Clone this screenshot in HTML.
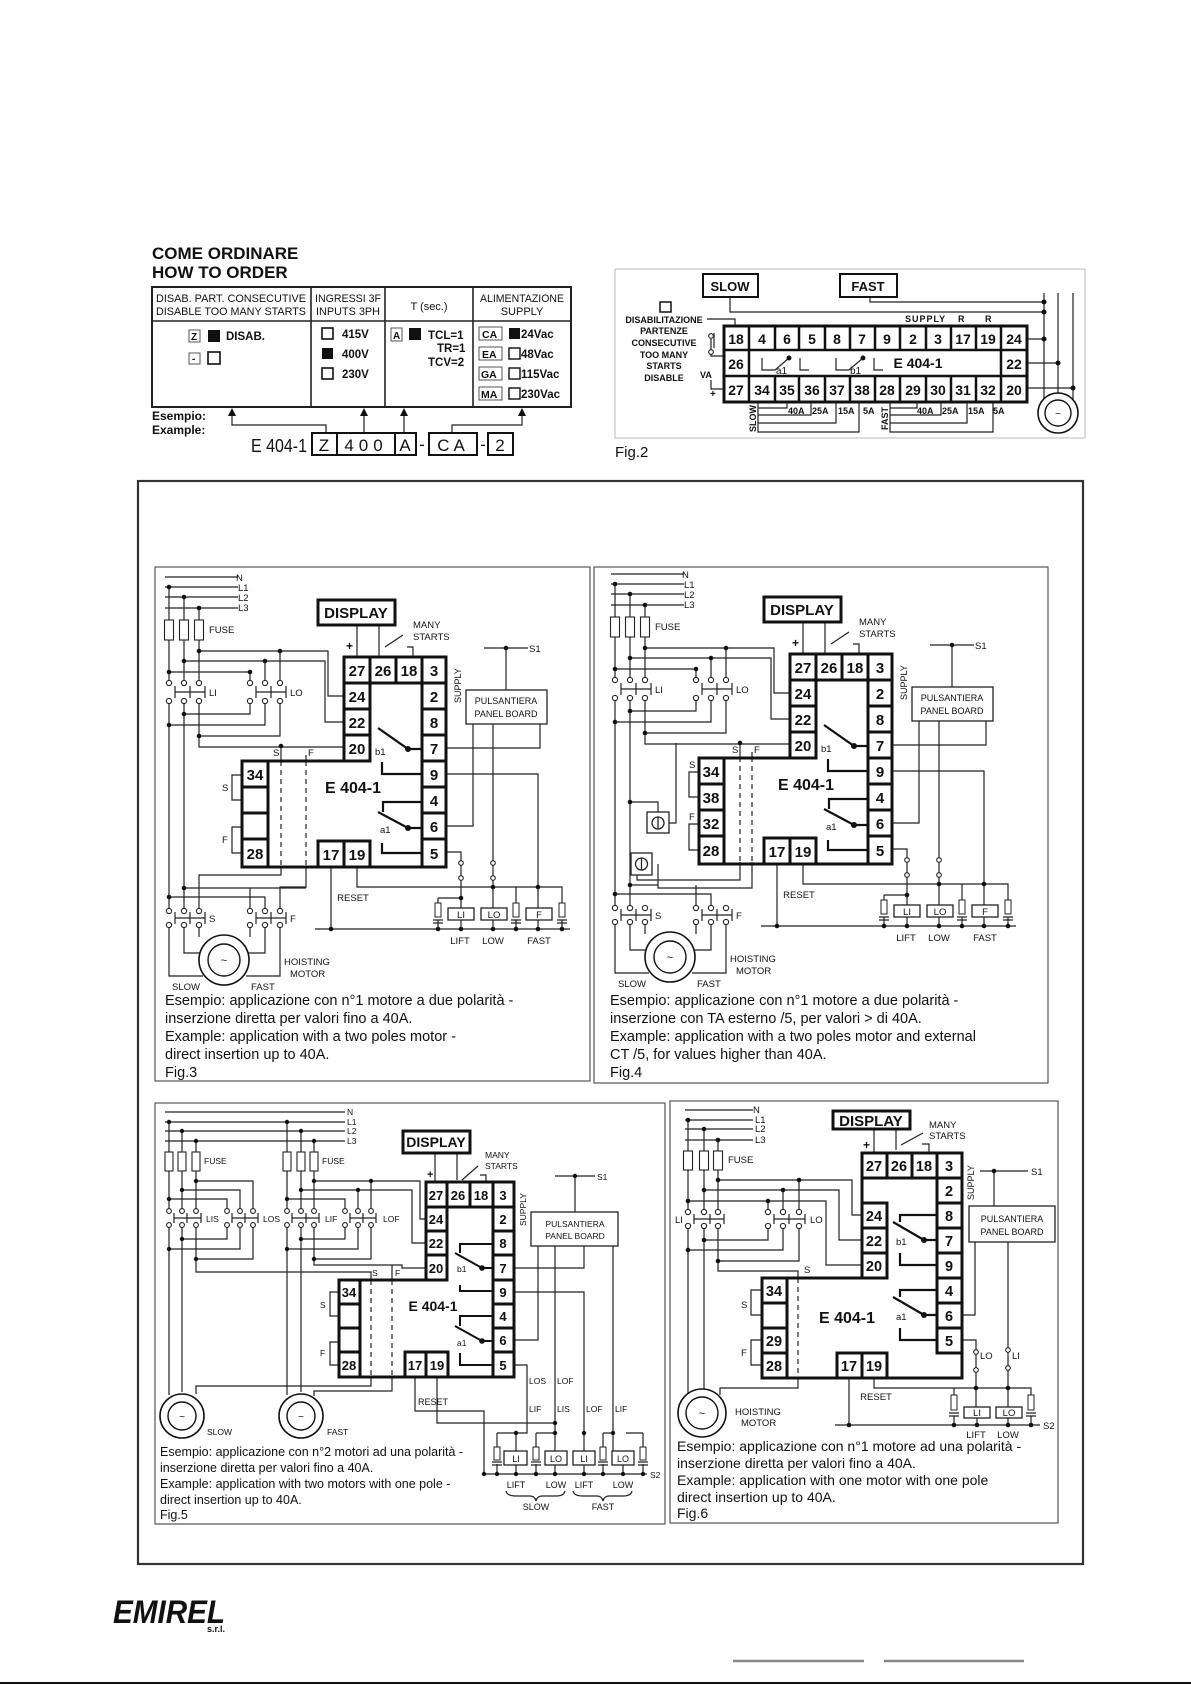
<!DOCTYPE html>
<html><head><meta charset="utf-8"><style>
html,body{margin:0;padding:0;background:#fff}
svg{display:block}
text{font-family:"Liberation Sans",Arial,sans-serif;fill:#111}
.w{fill:none;stroke:#222;stroke-width:1.2}
.k{fill:#fff;stroke:#111;stroke-width:3}
.kb{fill:none;stroke:#111;stroke-width:3}
.d{fill:none;stroke:#222;stroke-width:1.2;stroke-dasharray:5,4}
.b{font-weight:bold}
.o{fill:#fff;stroke:#222;stroke-width:1.1}
</style></head><body>
<svg width="1191" height="1685" viewBox="0 0 1191 1685" xmlns="http://www.w3.org/2000/svg">
<rect width="1191" height="1685" fill="#fff"/>

<!-- HOW TO ORDER -->
<text x="152" y="259" class="b" font-size="17">COME ORDINARE</text>
<text x="152" y="278" class="b" font-size="17">HOW TO ORDER</text>
<rect x="152" y="287" width="419" height="120" fill="none" stroke="#222" stroke-width="2"/>
<path d="M152,321H571M311,287V407M385,287V407M473,287V407" stroke="#222" stroke-width="1.6" fill="none"/>
<g font-size="11" text-anchor="middle">
<text x="231" y="302" textLength="150" lengthAdjust="spacingAndGlyphs">DISAB. PART. CONSECUTIVE</text>
<text x="231" y="315" textLength="150" lengthAdjust="spacingAndGlyphs">DISABLE TOO MANY STARTS</text>
<text x="348" y="302" textLength="66" lengthAdjust="spacingAndGlyphs">INGRESSI 3F</text>
<text x="348" y="315" textLength="64" lengthAdjust="spacingAndGlyphs">INPUTS 3PH</text>
<text x="429" y="310">T (sec.)</text>
<text x="522" y="302" textLength="84" lengthAdjust="spacingAndGlyphs">ALIMENTAZIONE</text>
<text x="522" y="315">SUPPLY</text>
</g>
<g font-size="11.5" class="b">
<rect x="189" y="330" width="11" height="12" fill="none" stroke="#555"/><text x="191" y="340" font-size="10">Z</text>
<rect x="208" y="330" width="12" height="12" fill="#111"/><text x="226" y="340" class="b">DISAB.</text>
<rect x="189" y="353" width="11" height="11" fill="none" stroke="#555"/><text x="192" y="362" font-size="10">-</text>
<rect x="208" y="352" width="12" height="12" fill="none" stroke="#111" stroke-width="1.6"/>
<rect x="322" y="328" width="11" height="11" fill="none" stroke="#111" stroke-width="1.6"/><text x="342" y="338" class="b">415V</text>
<rect x="322" y="348" width="11" height="11" fill="#111"/><text x="342" y="358" class="b">400V</text>
<rect x="322" y="368" width="11" height="11" fill="none" stroke="#111" stroke-width="1.6"/><text x="342" y="378" class="b">230V</text>
<rect x="391" y="328" width="11" height="13" fill="none" stroke="#555"/><text x="393" y="339" font-size="10">A</text>
<rect x="409" y="328" width="12" height="12" fill="#111"/>
<text x="428" y="339" class="b">TCL=1</text><text x="437" y="352" class="b">TR=1</text><text x="428" y="366" class="b">TCV=2</text>
<rect x="479" y="327" width="23" height="13" fill="none" stroke="#555"/><text x="482" y="338" font-size="10.5">CA</text>
<rect x="509" y="328" width="11" height="11" fill="#111"/><text x="521" y="338" class="b">24Vac</text>
<rect x="479" y="347" width="23" height="13" fill="none" stroke="#555"/><text x="482" y="358" font-size="10.5">EA</text>
<rect x="509" y="348" width="11" height="11" fill="none" stroke="#111" stroke-width="1.4"/><text x="521" y="358" class="b">48Vac</text>
<rect x="479" y="367" width="23" height="13" fill="none" stroke="#555"/><text x="481" y="378" font-size="10.5">GA</text>
<rect x="509" y="368" width="11" height="11" fill="none" stroke="#111" stroke-width="1.4"/><text x="521" y="378" class="b">115Vac</text>
<rect x="479" y="387" width="23" height="13" fill="none" stroke="#555"/><text x="481" y="398" font-size="10.5">MA</text>
<rect x="509" y="388" width="11" height="11" fill="none" stroke="#111" stroke-width="1.4"/><text x="521" y="398" class="b">230Vac</text>
</g>
<text x="152" y="420" class="b" font-size="12">Esempio:</text>
<text x="152" y="434" class="b" font-size="12">Example:</text>
<path d="M232,415V425H326V433M364,415V433M404,415V433M452,433V425H522V415" class="w" stroke-width="1.3"/>
<path d="M228,416L232,408L236,416ZM360,416L364,408L368,416ZM400,416L404,408L408,416ZM518,416L522,408L526,416Z" fill="#111"/>
<text x="251" y="452" font-size="18" textLength="56" lengthAdjust="spacingAndGlyphs">E 404-1</text>
<g fill="none" stroke="#111" stroke-width="2"><rect x="312" y="433" width="25" height="22"/><rect x="337" y="433" width="58" height="22"/><rect x="395" y="433" width="21" height="22"/><rect x="429" y="433" width="48" height="22"/><rect x="488" y="433" width="25" height="22"/></g>
<g font-size="17" text-anchor="middle"><text x="324" y="451">Z</text><text x="366" y="451" letter-spacing="5">400</text><text x="405" y="451">A</text><text x="422" y="450">-</text><text x="453" y="451" letter-spacing="4">CA</text><text x="483" y="450">-</text><text x="500" y="451">2</text></g>

<!-- FIG 2 -->
<path d="M615,269H1085M615,438H1085M615,269V438M1085,269V438" stroke="#bbb" stroke-width="1" fill="none"/>
<rect x="703" y="274" width="55" height="23" fill="none" stroke="#111" stroke-width="2"/><text x="730" y="291" text-anchor="middle" class="b" font-size="13">SLOW</text>
<rect x="840" y="274" width="57" height="23" fill="none" stroke="#111" stroke-width="2"/><text x="868" y="291" text-anchor="middle" class="b" font-size="13">FAST</text>
<path d="M730,297V312H1044M870,297V302H1044M1044,293V402M1058,293V402M1073,293V402M1027,339H1044M1027,363H1058M1027,388H1073" class="w"/>
<g fill="#111"><circle cx="1044" cy="302" r="2.5"/><circle cx="1044" cy="312" r="2.5"/><circle cx="1044" cy="339" r="2.5"/><circle cx="1058" cy="363" r="2.5"/><circle cx="1073" cy="388" r="2.5"/></g>
<circle cx="1058" cy="413" r="20" fill="#fff" stroke="#111" stroke-width="1.6"/><circle cx="1058" cy="413" r="13" fill="none" stroke="#111" stroke-width="1.4"/><text x="1058" y="417" text-anchor="middle" font-size="10">~</text>
<rect x="660" y="302" width="11" height="10" fill="none" stroke="#111" stroke-width="1.5"/>
<g class="b" font-size="9" text-anchor="middle"><text x="664" y="323">DISABILITAZIONE</text><text x="664" y="334">PARTENZE</text><text x="664" y="346">CONSECUTIVE</text><text x="664" y="358">TOO MANY</text><text x="664" y="369">STARTS</text><text x="664" y="381">DISABLE</text></g>
<path d="M707,319H735V326M711,339V356H724M714,333V348M711,380V389H724" class="w"/>
<circle cx="711" cy="336" r="2.3" class="o"/><circle cx="711" cy="352" r="2.3" class="o"/>
<text x="700" y="378" font-size="9" class="b">VA</text><text x="710" y="397" font-size="10" class="b">+</text>
<text x="905" y="322" font-size="9" class="b" letter-spacing="1">SUPPLY</text><text x="958" y="322" font-size="9" class="b">R</text><text x="985" y="322" font-size="9" class="b">R</text>
<rect x="724" y="326" width="303" height="76" class="kb"/>
<path d="M724,350H1027M724,376H1027M749,326V402M775,326V350M799,326V350M825,326V350M850,326V350M875,326V350M900,326V350M926,326V350M951,326V350M976,326V350M1001,326V402M775,376V402M799,376V402M825,376V402M850,376V402M875,376V402M900,376V402M926,376V402M951,376V402M976,376V402" stroke="#111" stroke-width="2.5" fill="none"/>
<g class="b" font-size="14" text-anchor="middle">
<text x="736" y="344">18</text><text x="762" y="344">4</text><text x="787" y="344">6</text><text x="812" y="344">5</text><text x="837" y="344">8</text><text x="862" y="344">7</text><text x="887" y="344">9</text><text x="913" y="344">2</text><text x="938" y="344">3</text><text x="963" y="344">17</text><text x="988" y="344">19</text><text x="1014" y="344">24</text>
<text x="736" y="369">26</text><text x="1014" y="369">22</text><text x="918" y="368">E 404-1</text>
<text x="736" y="395">27</text><text x="762" y="395">34</text><text x="787" y="395">35</text><text x="812" y="395">36</text><text x="837" y="395">37</text><text x="862" y="395">38</text><text x="887" y="395">28</text><text x="913" y="395">29</text><text x="938" y="395">30</text><text x="963" y="395">31</text><text x="988" y="395">32</text><text x="1014" y="395">20</text>
</g>
<path d="M762,358V370H775L789,358M800,358V370H809M836,358V370H849L863,358M874,358V370H883" class="w" stroke-width="1.8"/>
<circle cx="789" cy="358" r="2.5" fill="#111"/><circle cx="863" cy="358" r="2.5" fill="#111"/>
<text x="776" y="374" font-size="10">a1</text><text x="850" y="374" font-size="10">b1</text>
<path d="M758,402V432H859V402M758,408H787V402M758,415H811V402M758,423H836V402M890,402V432H993V402M890,408H917V402M890,415H941V402M890,423H967V402" class="w" stroke-width="1"/>
<g font-size="9" class="b"><text x="788" y="414">40A</text><text x="812" y="414">25A</text><text x="838" y="414">15A</text><text x="863" y="414">5A</text><text x="917" y="414">40A</text><text x="942" y="414">25A</text><text x="968" y="414">15A</text><text x="993" y="414">5A</text>
<text transform="translate(756,432) rotate(-90)">SLOW</text><text transform="translate(888,430) rotate(-90)">FAST</text></g>
<text x="615" y="457" font-size="15">Fig.2</text>

<!-- OUTER FRAME -->
<rect x="138" y="481" width="945" height="1083" fill="none" stroke="#333" stroke-width="2.2"/>

<!-- FIG 3 -->
<rect x="155" y="567" width="435" height="514" fill="none" stroke="#555" stroke-width="1.2"/>
<g transform="translate(150,565)">
<path class="w" d="M15,12H88M15,22H88M15,32H88M15,43H88M19,22V118M34,32V118M49,43V118M19,136V346M34,136V346M49,136V182H194M49,86H178V131H194M130,86V118M34,96H175V157H194M115,96V118M19,107H100V118M34,149H100V136M19,160H115V136M49,171H130V136M131,181V196M156,190V196M131,302V310H49V346M156,302V322H130V346M34,323H156M100,323V346M19,332H115V346M19,360V411H53M34,360V388H53M49,360V372M100,360V372M115,360V388H96M130,360V411H96M207,60V92M229,60V92M235,82L253,70M257,82H263V92M334,83H378M356,83V125M296,183H390V159M296,261H323V159M296,209H388V343M343,159V300M343,313V343M296,287H311V298M311,313V343M288,333H311M207,302V322H412V338M181,302V364M165,364H420M288,333V338M366,322V338M288,355V364M311,355V364M343,355V364M388,355V364M366,355V364M412,355V364M92,210H82V235H92M92,262H82V288H92"/>
<path class="d" d="M131,196V302M156,196V302"/>
<g fill="#111"><circle cx="19" cy="22" r="2.3"/><circle cx="34" cy="32" r="2.3"/><circle cx="49" cy="43" r="2.3"/><circle cx="49" cy="86" r="2.3"/><circle cx="130" cy="86" r="2.3"/><circle cx="34" cy="96" r="2.3"/><circle cx="115" cy="96" r="2.3"/><circle cx="19" cy="107" r="2.3"/><circle cx="100" cy="107" r="2.3"/><circle cx="34" cy="149" r="2.3"/><circle cx="19" cy="160" r="2.3"/><circle cx="49" cy="171" r="2.3"/><circle cx="131" cy="181" r="2.3"/><circle cx="34" cy="323" r="2.3"/><circle cx="19" cy="332" r="2.3"/><circle cx="356" cy="83" r="2.3"/><circle cx="311" cy="333" r="2.3"/><circle cx="343" cy="322" r="2.3"/><circle cx="388" cy="322" r="2.3"/><circle cx="181" cy="364" r="2.3"/><circle cx="288" cy="364" r="2.3"/><circle cx="311" cy="364" r="2.3"/><circle cx="343" cy="364" r="2.3"/><circle cx="366" cy="364" r="2.3"/><circle cx="388" cy="364" r="2.3"/><circle cx="412" cy="364" r="2.3"/></g>
<g fill="#fff" stroke="#222" stroke-width="1.1"><rect x="14.5" y="55" width="9" height="20"/><rect x="29.5" y="55" width="9" height="20"/><rect x="44.5" y="55" width="9" height="20"/></g>
<path class="w" stroke-width="1.6" d="M25,121V133M25,127H55M40,121V133M55,121V133M106,121V133M106,127H136M121,121V133M136,121V133M25,347V359M25,353H55M40,347V359M55,347V359M106,347V359M106,353H136M121,347V359M136,347V359M311,300V313M343,300V313"/>
<g class="o"><circle cx="19" cy="118" r="2.6"/><circle cx="34" cy="118" r="2.6"/><circle cx="49" cy="118" r="2.6"/><circle cx="19" cy="136" r="2.6"/><circle cx="34" cy="136" r="2.6"/><circle cx="49" cy="136" r="2.6"/><circle cx="100" cy="118" r="2.6"/><circle cx="115" cy="118" r="2.6"/><circle cx="130" cy="118" r="2.6"/><circle cx="100" cy="136" r="2.6"/><circle cx="115" cy="136" r="2.6"/><circle cx="130" cy="136" r="2.6"/><circle cx="19" cy="346" r="2.6"/><circle cx="34" cy="346" r="2.6"/><circle cx="49" cy="346" r="2.6"/><circle cx="19" cy="360" r="2.6"/><circle cx="34" cy="360" r="2.6"/><circle cx="49" cy="360" r="2.6"/><circle cx="100" cy="346" r="2.6"/><circle cx="115" cy="346" r="2.6"/><circle cx="130" cy="346" r="2.6"/><circle cx="100" cy="360" r="2.6"/><circle cx="115" cy="360" r="2.6"/><circle cx="130" cy="360" r="2.6"/><circle cx="311" cy="298" r="2.3"/><circle cx="311" cy="313" r="2.3"/><circle cx="343" cy="298" r="2.3"/><circle cx="343" cy="313" r="2.3"/></g>
<circle cx="74" cy="395" r="25" fill="#fff" stroke="#111" stroke-width="1.6"/><circle cx="74" cy="395" r="16" fill="none" stroke="#111" stroke-width="1.4"/><text x="74" y="399" text-anchor="middle" font-size="11">~</text>
<g fill="#fff" stroke="#222"><rect x="285" y="338" width="6" height="14"/><rect x="363" y="338" width="6" height="14"/><rect x="409" y="338" width="6" height="14"/></g>
<path class="w" stroke-width="1.6" d="M283,355H293M283,358H293M361,355H371M361,358H371M407,355H417M407,358H417"/>
<g fill="#fff" stroke="#222" stroke-width="1.3"><rect x="298" y="343" width="26" height="12"/><rect x="331" y="343" width="26" height="12"/><rect x="376" y="343" width="26" height="12"/></g>
<g font-size="9.5" text-anchor="middle"><text x="311" y="353">LI</text><text x="344" y="353">LO</text><text x="389" y="353">F</text><text x="310" y="379">LIFT</text><text x="343" y="379">LOW</text><text x="389" y="379">FAST</text><text x="203" y="336">RESET</text></g>
<g font-size="9.5"><text x="86" y="16">N</text><text x="88" y="26">L1</text><text x="88" y="36">L2</text><text x="88" y="46">L3</text><text x="59" y="68">FUSE</text><text x="59" y="131">LI</text><text x="140" y="131">LO</text><text x="59" y="357">S</text><text x="140" y="357">F</text><text x="22" y="425">SLOW</text><text x="101" y="425">FAST</text><text x="134" y="400">HOISTING</text><text x="140" y="412">MOTOR</text><text x="263" y="63">MANY</text><text x="263" y="75">STARTS</text><text x="123" y="191">S</text><text x="158" y="191">F</text><text x="72" y="226">S</text><text x="72" y="278">F</text><text x="379" y="87">S1</text><text transform="translate(311,138) rotate(-90)" font-size="9">SUPPLY</text><text x="225" y="190">b1</text><text x="230" y="268">a1</text><text x="196" y="85" class="b" font-size="12">+</text></g>
<rect x="316" y="125" width="81" height="34" fill="#fff" stroke="#222" stroke-width="1.3"/>
<g font-size="9" text-anchor="middle"><text x="356" y="139">PULSANTIERA</text><text x="356" y="152">PANEL BOARD</text></g>
<rect x="168" y="35" width="77" height="25" fill="#fff" stroke="#111" stroke-width="3"/><text x="206" y="53" text-anchor="middle" class="b" font-size="15">DISPLAY</text>
<path class="kb" d="M92,196H194V92H296V302H92Z"/>
<g class="k"><rect x="194" y="92" width="26" height="26"/><rect x="220" y="92" width="26" height="26"/><rect x="246" y="92" width="26" height="26"/><rect x="272" y="92" width="24" height="26"/><rect x="194" y="118" width="26" height="26"/><rect x="194" y="144" width="26" height="26"/><rect x="194" y="170" width="26" height="26"/><rect x="272" y="118" width="24" height="26"/><rect x="272" y="144" width="24" height="26"/><rect x="272" y="170" width="24" height="26"/><rect x="272" y="196" width="24" height="26"/><rect x="272" y="222" width="24" height="26"/><rect x="272" y="248" width="24" height="26"/><rect x="272" y="274" width="24" height="28"/><rect x="92" y="196" width="26" height="26"/><rect x="92" y="222" width="26" height="26"/><rect x="92" y="248" width="26" height="26"/><rect x="92" y="274" width="26" height="28"/><rect x="168" y="276" width="26" height="26"/><rect x="194" y="276" width="26" height="26"/></g>
<g class="b" font-size="15" text-anchor="middle"><text x="207" y="111">27</text><text x="233" y="111">26</text><text x="259" y="111">18</text><text x="284" y="111">3</text><text x="207" y="137">24</text><text x="207" y="163">22</text><text x="207" y="189">20</text><text x="284" y="137">2</text><text x="284" y="163">8</text><text x="284" y="189">7</text><text x="284" y="215">9</text><text x="284" y="241">4</text><text x="284" y="267">6</text><text x="284" y="294">5</text><text x="105" y="215">34</text><text x="105" y="294">28</text><text x="181" y="295">17</text><text x="207" y="295">19</text><text x="203" y="228" font-size="16">E 404-1</text></g>
<path d="M228,163L258,184H272M232,197V209H272M228,247L258,263H272M233,247V237H272M232,278V288H272" fill="none" stroke="#111" stroke-width="2.2"/>
<circle cx="258" cy="184" r="3" fill="#111"/><circle cx="258" cy="263" r="3" fill="#111"/>
<g font-size="14.5"><text x="15" y="440">Esempio: applicazione con n°1 motore a due polarità -</text><text x="15" y="458">inserzione diretta per valori fino a 40A.</text><text x="15" y="476">Example: application with a two poles motor -</text><text x="15" y="494">direct insertion up to 40A.</text><text x="15" y="512">Fig.3</text></g>
</g>

<!-- FIG 4 -->
<rect x="594" y="567" width="454" height="516" fill="none" stroke="#555" stroke-width="1.2"/>
<g transform="translate(596,562)">
<path class="w" d="M15,12H88M15,22H88M15,32H88M15,43H88M19,22V118M34,32V118M49,43V118M19,136V346M34,136V346M49,136V182H194M49,86H178V131H194M130,86V118M34,96H175V157H194M115,96V118M19,107H100V118M34,149H100V136M19,160H115V136M49,171H130V136M144,181V195M156,190V195M144,300V318H41V303M156,300V326H62V302M34,323H62M100,323V346M19,332H115V346M19,360V411H53M34,360V388H53M49,360V372M100,360V372M115,360V388H96M130,360V411H96M207,60V92M229,60V92M235,82L253,70M257,82H263V92M334,83H378M356,83V125M296,183H390V159M296,261H323V159M296,209H388V343M343,159V300M343,313V343M296,287H311V298M311,313V343M288,333H311M207,302V322H412V338M181,302V364M165,364H420M288,333V338M366,322V338M288,355V364M311,355V364M343,355V364M388,355V364M366,355V364M412,355V364M103,210H93V235H103M103,262H93V288H103M34,240H62V250M73,261H80V181"/>
<path class="d" d="M144,195V300M156,195V300"/>
<g fill="#111"><circle cx="19" cy="22" r="2.3"/><circle cx="34" cy="32" r="2.3"/><circle cx="49" cy="43" r="2.3"/><circle cx="49" cy="86" r="2.3"/><circle cx="130" cy="86" r="2.3"/><circle cx="34" cy="96" r="2.3"/><circle cx="115" cy="96" r="2.3"/><circle cx="19" cy="107" r="2.3"/><circle cx="100" cy="107" r="2.3"/><circle cx="34" cy="149" r="2.3"/><circle cx="19" cy="160" r="2.3"/><circle cx="49" cy="171" r="2.3"/><circle cx="144" cy="181" r="2.3"/><circle cx="34" cy="240" r="2.3"/><circle cx="34" cy="323" r="2.3"/><circle cx="19" cy="332" r="2.3"/><circle cx="356" cy="83" r="2.3"/><circle cx="311" cy="333" r="2.3"/><circle cx="343" cy="322" r="2.3"/><circle cx="388" cy="322" r="2.3"/><circle cx="181" cy="364" r="2.3"/><circle cx="288" cy="364" r="2.3"/><circle cx="311" cy="364" r="2.3"/><circle cx="343" cy="364" r="2.3"/><circle cx="366" cy="364" r="2.3"/><circle cx="388" cy="364" r="2.3"/><circle cx="412" cy="364" r="2.3"/></g>
<g fill="#fff" stroke="#222" stroke-width="1.3"><rect x="51" y="250" width="22" height="21"/><rect x="35" y="291" width="21" height="22"/></g>
<g fill="none" stroke="#222" stroke-width="1.3"><circle cx="62" cy="261" r="6"/><circle cx="45.5" cy="302" r="6"/><path d="M62,255V267M45.5,296V308"/></g>
<g fill="#fff" stroke="#222" stroke-width="1.1"><rect x="14.5" y="55" width="9" height="20"/><rect x="29.5" y="55" width="9" height="20"/><rect x="44.5" y="55" width="9" height="20"/></g>
<path class="w" stroke-width="1.6" d="M25,121V133M25,127H55M40,121V133M55,121V133M106,121V133M106,127H136M121,121V133M136,121V133M25,347V359M25,353H55M40,347V359M55,347V359M106,347V359M106,353H136M121,347V359M136,347V359M311,300V313M343,300V313"/>
<g class="o"><circle cx="19" cy="118" r="2.6"/><circle cx="34" cy="118" r="2.6"/><circle cx="49" cy="118" r="2.6"/><circle cx="19" cy="136" r="2.6"/><circle cx="34" cy="136" r="2.6"/><circle cx="49" cy="136" r="2.6"/><circle cx="100" cy="118" r="2.6"/><circle cx="115" cy="118" r="2.6"/><circle cx="130" cy="118" r="2.6"/><circle cx="100" cy="136" r="2.6"/><circle cx="115" cy="136" r="2.6"/><circle cx="130" cy="136" r="2.6"/><circle cx="19" cy="346" r="2.6"/><circle cx="34" cy="346" r="2.6"/><circle cx="49" cy="346" r="2.6"/><circle cx="19" cy="360" r="2.6"/><circle cx="34" cy="360" r="2.6"/><circle cx="49" cy="360" r="2.6"/><circle cx="100" cy="346" r="2.6"/><circle cx="115" cy="346" r="2.6"/><circle cx="130" cy="346" r="2.6"/><circle cx="100" cy="360" r="2.6"/><circle cx="115" cy="360" r="2.6"/><circle cx="130" cy="360" r="2.6"/><circle cx="311" cy="298" r="2.3"/><circle cx="311" cy="313" r="2.3"/><circle cx="343" cy="298" r="2.3"/><circle cx="343" cy="313" r="2.3"/></g>
<circle cx="74" cy="395" r="25" fill="#fff" stroke="#111" stroke-width="1.6"/><circle cx="74" cy="395" r="16" fill="none" stroke="#111" stroke-width="1.4"/><text x="74" y="399" text-anchor="middle" font-size="11">~</text>
<g fill="#fff" stroke="#222"><rect x="285" y="338" width="6" height="14"/><rect x="363" y="338" width="6" height="14"/><rect x="409" y="338" width="6" height="14"/></g>
<path class="w" stroke-width="1.6" d="M283,355H293M283,358H293M361,355H371M361,358H371M407,355H417M407,358H417"/>
<g fill="#fff" stroke="#222" stroke-width="1.3"><rect x="298" y="343" width="26" height="12"/><rect x="331" y="343" width="26" height="12"/><rect x="376" y="343" width="26" height="12"/></g>
<g font-size="9.5" text-anchor="middle"><text x="311" y="353">LI</text><text x="344" y="353">LO</text><text x="389" y="353">F</text><text x="310" y="379">LIFT</text><text x="343" y="379">LOW</text><text x="389" y="379">FAST</text><text x="203" y="336">RESET</text></g>
<g font-size="9.5"><text x="86" y="16">N</text><text x="88" y="26">L1</text><text x="88" y="36">L2</text><text x="88" y="46">L3</text><text x="59" y="68">FUSE</text><text x="59" y="131">LI</text><text x="140" y="131">LO</text><text x="59" y="357">S</text><text x="140" y="357">F</text><text x="22" y="425">SLOW</text><text x="101" y="425">FAST</text><text x="134" y="400">HOISTING</text><text x="140" y="412">MOTOR</text><text x="263" y="63">MANY</text><text x="263" y="75">STARTS</text><text x="136" y="191">S</text><text x="158" y="191">F</text><text x="93" y="206">S</text><text x="93" y="258">F</text><text x="379" y="87">S1</text><text transform="translate(311,138) rotate(-90)" font-size="9">SUPPLY</text><text x="225" y="190">b1</text><text x="230" y="268">a1</text><text x="196" y="85" class="b" font-size="12">+</text></g>
<rect x="316" y="125" width="81" height="34" fill="#fff" stroke="#222" stroke-width="1.3"/>
<g font-size="9" text-anchor="middle"><text x="356" y="139">PULSANTIERA</text><text x="356" y="152">PANEL BOARD</text></g>
<rect x="168" y="35" width="77" height="25" fill="#fff" stroke="#111" stroke-width="3"/><text x="206" y="53" text-anchor="middle" class="b" font-size="15">DISPLAY</text>
<path class="kb" d="M103,196H194V92H296V302H103Z"/>
<g class="k"><rect x="194" y="92" width="26" height="26"/><rect x="220" y="92" width="26" height="26"/><rect x="246" y="92" width="26" height="26"/><rect x="272" y="92" width="24" height="26"/><rect x="194" y="118" width="26" height="26"/><rect x="194" y="144" width="26" height="26"/><rect x="194" y="170" width="26" height="26"/><rect x="272" y="118" width="24" height="26"/><rect x="272" y="144" width="24" height="26"/><rect x="272" y="170" width="24" height="26"/><rect x="272" y="196" width="24" height="26"/><rect x="272" y="222" width="24" height="26"/><rect x="272" y="248" width="24" height="26"/><rect x="272" y="274" width="24" height="28"/><rect x="103" y="196" width="25" height="26"/><rect x="103" y="222" width="25" height="26"/><rect x="103" y="248" width="25" height="26"/><rect x="103" y="274" width="25" height="28"/><rect x="168" y="276" width="26" height="26"/><rect x="194" y="276" width="26" height="26"/></g>
<g class="b" font-size="15" text-anchor="middle"><text x="207" y="111">27</text><text x="233" y="111">26</text><text x="259" y="111">18</text><text x="284" y="111">3</text><text x="207" y="137">24</text><text x="207" y="163">22</text><text x="207" y="189">20</text><text x="284" y="137">2</text><text x="284" y="163">8</text><text x="284" y="189">7</text><text x="284" y="215">9</text><text x="284" y="241">4</text><text x="284" y="267">6</text><text x="284" y="294">5</text><text x="115" y="215">34</text><text x="115" y="241">38</text><text x="115" y="267">32</text><text x="115" y="294">28</text><text x="181" y="295">17</text><text x="207" y="295">19</text><text x="210" y="228" font-size="16">E 404-1</text></g>
<path d="M228,163L258,184H272M232,197V209H272M228,247L258,263H272M233,247V237H272M232,278V288H272" fill="none" stroke="#111" stroke-width="2.2"/>
<circle cx="258" cy="184" r="3" fill="#111"/><circle cx="258" cy="263" r="3" fill="#111"/>
<g font-size="14.5"><text x="14" y="443">Esempio: applicazione con n°1 motore a due polarità -</text><text x="14" y="461">inserzione con TA esterno /5, per valori &gt; di 40A.</text><text x="14" y="479">Example: application with a two poles motor and external</text><text x="14" y="497">CT /5, for values higher than 40A.</text><text x="14" y="515">Fig.4</text></g>
</g>

<!-- FIG 5 -->
<rect x="155" y="1103" width="510" height="421" fill="none" stroke="#555" stroke-width="1.2"/>
<g transform="translate(150,1098)">
<path class="w" d="M15,14H195M15,24H195M15,33H195M15,43H195M19,24V113M32,33V113M46,43V113M137,24V113M151,33V113M164,43V113M19,127V297M32,127V294M137,127V297M151,127V294M46,127V174H221V182M164,127V167H252V170H276M46,83H103V113M32,92H90V113M19,101H77V113M164,83H270V121H276M221,83V113M151,92H262V145H276M208,92V113M137,101H195V113M32,141H77V127M19,151H90V127M46,161H103V127M151,141H195V127M137,151H208V127M164,161H221V127M242,167V182M221,279V288H46V296M242,279V293H164V298M285,55V84M307,55V82M312,82L328,68M330,77H336V84M405,78H445M425,78V114M364,170H434V148M364,194H434V300M434,318V353M364,242H388V148M364,267H377V275M377,290V300M377,318V335H366V353M405,148V275M405,290V300M405,318V353M287,279V325H405M463,148V300M463,318V353M265,279V313H334V376M334,376H497M347,335V349M386,335V349M453,335V349M493,335V349M347,335H366M386,335H405M453,335H463M476,335H493M347,366V376M366,367V376M386,366V376M405,367V376M434,367V376M453,366V376M473,367V376M493,366V376M189,194H180V218H189M189,244H180V267H189"/>
<path class="d" d="M221,182V279M242,182V279"/>
<g fill="#111"><circle cx="19" cy="24" r="2.2"/><circle cx="32" cy="33" r="2.2"/><circle cx="46" cy="43" r="2.2"/><circle cx="137" cy="24" r="2.2"/><circle cx="151" cy="33" r="2.2"/><circle cx="164" cy="43" r="2.2"/><circle cx="46" cy="83" r="2.2"/><circle cx="32" cy="92" r="2.2"/><circle cx="19" cy="101" r="2.2"/><circle cx="164" cy="83" r="2.2"/><circle cx="221" cy="83" r="2.2"/><circle cx="151" cy="92" r="2.2"/><circle cx="208" cy="92" r="2.2"/><circle cx="137" cy="101" r="2.2"/><circle cx="32" cy="141" r="2.2"/><circle cx="19" cy="151" r="2.2"/><circle cx="46" cy="161" r="2.2"/><circle cx="151" cy="141" r="2.2"/><circle cx="137" cy="151" r="2.2"/><circle cx="164" cy="161" r="2.2"/><circle cx="425" cy="78" r="2.2"/><circle cx="405" cy="325" r="2.2"/><circle cx="366" cy="335" r="2.2"/><circle cx="405" cy="335" r="2.2"/><circle cx="434" cy="335" r="2.2"/><circle cx="463" cy="335" r="2.2"/><circle cx="334" cy="376" r="2.2"/><circle cx="347" cy="376" r="2.2"/><circle cx="366" cy="376" r="2.2"/><circle cx="386" cy="376" r="2.2"/><circle cx="405" cy="376" r="2.2"/><circle cx="434" cy="376" r="2.2"/><circle cx="453" cy="376" r="2.2"/><circle cx="473" cy="376" r="2.2"/><circle cx="493" cy="376" r="2.2"/></g>
<g fill="#fff" stroke="#222" stroke-width="1.1"><rect x="15" y="54" width="8" height="19"/><rect x="28" y="54" width="8" height="19"/><rect x="42" y="54" width="8" height="19"/><rect x="133" y="54" width="8" height="19"/><rect x="147" y="54" width="8" height="19"/><rect x="160" y="54" width="8" height="19"/></g>
<path class="w" stroke-width="1.6" d="M24,115V125M24,120H51M37,115V125M51,115V125M82,115V125M82,120H108M95,115V125M108,115V125M142,115V125M142,120H169M156,115V125M169,115V125M200,115V125M200,120H226M213,115V125M226,115V125M377,275V290M377,300V318M405,275V290M405,300V318M434,300V318M463,300V318"/>
<g class="o"><circle cx="19" cy="113" r="2.4"/><circle cx="32" cy="113" r="2.4"/><circle cx="46" cy="113" r="2.4"/><circle cx="19" cy="127" r="2.4"/><circle cx="32" cy="127" r="2.4"/><circle cx="46" cy="127" r="2.4"/><circle cx="77" cy="113" r="2.4"/><circle cx="90" cy="113" r="2.4"/><circle cx="103" cy="113" r="2.4"/><circle cx="77" cy="127" r="2.4"/><circle cx="90" cy="127" r="2.4"/><circle cx="103" cy="127" r="2.4"/><circle cx="137" cy="113" r="2.4"/><circle cx="151" cy="113" r="2.4"/><circle cx="164" cy="113" r="2.4"/><circle cx="137" cy="127" r="2.4"/><circle cx="151" cy="127" r="2.4"/><circle cx="164" cy="127" r="2.4"/><circle cx="195" cy="113" r="2.4"/><circle cx="208" cy="113" r="2.4"/><circle cx="221" cy="113" r="2.4"/><circle cx="195" cy="127" r="2.4"/><circle cx="208" cy="127" r="2.4"/><circle cx="221" cy="127" r="2.4"/></g>
<circle cx="32" cy="318" r="22" fill="#fff" stroke="#111" stroke-width="1.6"/><circle cx="32" cy="318" r="14" fill="none" stroke="#111" stroke-width="1.4"/><text x="32" y="322" text-anchor="middle" font-size="10">~</text>
<circle cx="151" cy="318" r="22" fill="#fff" stroke="#111" stroke-width="1.6"/><circle cx="151" cy="318" r="14" fill="none" stroke="#111" stroke-width="1.4"/><text x="151" y="322" text-anchor="middle" font-size="10">~</text>
<g fill="#fff" stroke="#222"><rect x="344" y="349" width="6" height="13"/><rect x="383" y="349" width="6" height="13"/><rect x="450" y="349" width="6" height="13"/><rect x="490" y="349" width="6" height="13"/></g>
<path class="w" stroke-width="1.6" d="M342,364H352M342,367H352M381,364H391M381,367H391M448,364H458M448,367H458M488,364H498M488,367H498"/>
<g fill="#fff" stroke="#222" stroke-width="1.3"><rect x="354" y="353" width="23" height="14"/><rect x="395" y="353" width="22" height="14"/><rect x="423" y="353" width="22" height="14"/><rect x="462" y="353" width="22" height="14"/></g>
<path class="w" d="M356,393Q357,398 366,398H380Q385,398 386,403Q387,398 392,398H406Q414,398 415,393M423,393Q424,398 433,398H447Q452,398 453,403Q454,398 459,398H473Q481,398 482,393"/>
<g font-size="9" text-anchor="middle"><text x="366" y="364">LI</text><text x="406" y="364">LO</text><text x="434" y="364">LI</text><text x="473" y="364">LO</text><text x="366" y="390">LIFT</text><text x="406" y="390">LOW</text><text x="434" y="390">LIFT</text><text x="473" y="390">LOW</text><text x="386" y="412">SLOW</text><text x="453" y="412">FAST</text><text x="283" y="307">RESET</text></g>
<g font-size="8.5"><text x="197" y="17">N</text><text x="197" y="27">L1</text><text x="197" y="36">L2</text><text x="197" y="46">L3</text><text x="54" y="66">FUSE</text><text x="172" y="66">FUSE</text><text x="56" y="124">LIS</text><text x="113" y="124">LOS</text><text x="175" y="124">LIF</text><text x="233" y="124">LOF</text><text x="57" y="337">SLOW</text><text x="177" y="337">FAST</text><text x="335" y="60">MANY</text><text x="335" y="71">STARTS</text><text x="222" y="178">S</text><text x="245" y="178">F</text><text x="170" y="210">S</text><text x="170" y="258">F</text><text x="447" y="82">S1</text><text x="500" y="380">S2</text><text x="379" y="286">LOS</text><text x="407" y="286">LOF</text><text x="379" y="314">LIF</text><text x="407" y="314">LIS</text><text x="436" y="314">LOF</text><text x="465" y="314">LIF</text><text transform="translate(376,128) rotate(-90)">SUPPLY</text><text x="307" y="174">b1</text><text x="307" y="248">a1</text><text x="277" y="80" class="b" font-size="11">+</text></g>
<rect x="381" y="114" width="87" height="34" fill="#fff" stroke="#222" stroke-width="1.3"/>
<g font-size="8.5" text-anchor="middle"><text x="425" y="129">PULSANTIERA</text><text x="425" y="141">PANEL BOARD</text></g>
<rect x="253" y="33" width="67" height="22" fill="#fff" stroke="#111" stroke-width="3"/><text x="286" y="49" text-anchor="middle" class="b" font-size="14">DISPLAY</text>
<path class="kb" d="M189,182H276V84H364V279H189Z"/>
<g class="k"><rect x="276" y="84" width="21" height="25"/><rect x="297" y="84" width="23" height="25"/><rect x="320" y="84" width="23" height="25"/><rect x="343" y="84" width="21" height="25"/><rect x="276" y="109" width="21" height="24"/><rect x="276" y="133" width="21" height="24"/><rect x="276" y="157" width="21" height="25"/><rect x="343" y="109" width="21" height="24"/><rect x="343" y="133" width="21" height="24"/><rect x="343" y="157" width="21" height="25"/><rect x="343" y="182" width="21" height="24"/><rect x="343" y="206" width="21" height="24"/><rect x="343" y="230" width="21" height="24"/><rect x="343" y="254" width="21" height="25"/><rect x="189" y="182" width="21" height="24"/><rect x="189" y="206" width="21" height="24"/><rect x="189" y="230" width="21" height="24"/><rect x="189" y="254" width="21" height="25"/><rect x="255" y="254" width="21" height="25"/><rect x="276" y="254" width="22" height="25"/></g>
<g class="b" font-size="13" text-anchor="middle"><text x="286" y="102">27</text><text x="308" y="102">26</text><text x="331" y="102">18</text><text x="353" y="102">3</text><text x="286" y="126">24</text><text x="286" y="150">22</text><text x="286" y="175">20</text><text x="353" y="126">2</text><text x="353" y="150">8</text><text x="353" y="175">7</text><text x="353" y="199">9</text><text x="353" y="223">4</text><text x="353" y="247">6</text><text x="353" y="272">5</text><text x="199" y="199">34</text><text x="199" y="272">28</text><text x="265" y="272">17</text><text x="287" y="272">19</text><text x="283" y="213" font-size="14">E 404-1</text></g>
<path d="M310,155V146H343M305,155L332,170H343M310,187V193H343M310,228V218H343M305,228L332,243H343M310,255V267H343" fill="none" stroke="#111" stroke-width="2"/>
<circle cx="332" cy="170" r="2.8" fill="#111"/><circle cx="332" cy="243" r="2.8" fill="#111"/>
<g font-size="12.5"><text x="10" y="358">Esempio: applicazione con n°2 motori ad una polarità -</text><text x="10" y="374">inserzione diretta per valori fino a 40A.</text><text x="10" y="390">Example: application with two motors with one pole -</text><text x="10" y="406">direct insertion up to 40A.</text><text x="10" y="421">Fig.5</text></g>
</g>

<!-- FIG 6 -->
<rect x="670" y="1101" width="388" height="422" fill="none" stroke="#555" stroke-width="1.2"/>
<g transform="translate(665,1095)">
<path class="w" d="M20,15H88M20,25H88M20,34H88M20,45H88M23,25V117M39,34V117M53,45V117M23,131V300M39,131V296M53,131V176H133V183M53,85H187V120H197M134,85V117M39,95H174V145H197M118,95V117M23,106H161V170H197M103,106V117M39,145H103V131M23,155H118V131M53,166H134V131M133,283V293H55V300M209,33V58M231,33V55M236,50L258,38M257,49H264V58M315,76H363M329,76V111M297,220H310V147M343,147V255M343,273V312M297,245H311V257M311,275V312M209,283V293H366V300M184,283V330M170,330H375M289,293H311M289,293V300M289,321V330M312,323V330M343,323V330M366,321V330M97,195H86V220H97M97,245H86V270H97"/>
<path class="d" d="M133,183V283"/>
<g fill="#fff" stroke="#222" stroke-width="1.1"><rect x="18.5" y="56" width="9" height="19"/><rect x="34.5" y="56" width="9" height="19"/><rect x="48.5" y="56" width="9" height="19"/></g>
<path class="w" stroke-width="1.6" d="M29,119V129M29,124H59M45,119V129M59,119V129M109,119V129M109,124H140M124,119V129M140,119V129M311,257V275M343,255V273"/>
<g fill="#111"><circle cx="23" cy="25" r="2.3"/><circle cx="39" cy="34" r="2.3"/><circle cx="53" cy="45" r="2.3"/><circle cx="53" cy="85" r="2.3"/><circle cx="134" cy="85" r="2.3"/><circle cx="39" cy="95" r="2.3"/><circle cx="118" cy="95" r="2.3"/><circle cx="23" cy="106" r="2.3"/><circle cx="103" cy="106" r="2.3"/><circle cx="39" cy="145" r="2.3"/><circle cx="23" cy="155" r="2.3"/><circle cx="53" cy="166" r="2.3"/><circle cx="329" cy="76" r="2.3"/><circle cx="311" cy="293" r="2.3"/><circle cx="343" cy="293" r="2.3"/><circle cx="184" cy="330" r="2.3"/><circle cx="289" cy="330" r="2.3"/><circle cx="312" cy="330" r="2.3"/><circle cx="343" cy="330" r="2.3"/><circle cx="366" cy="330" r="2.3"/></g>
<g class="o"><circle cx="23" cy="117" r="2.6"/><circle cx="39" cy="117" r="2.6"/><circle cx="53" cy="117" r="2.6"/><circle cx="23" cy="131" r="2.6"/><circle cx="39" cy="131" r="2.6"/><circle cx="53" cy="131" r="2.6"/><circle cx="103" cy="117" r="2.6"/><circle cx="118" cy="117" r="2.6"/><circle cx="134" cy="117" r="2.6"/><circle cx="103" cy="131" r="2.6"/><circle cx="118" cy="131" r="2.6"/><circle cx="134" cy="131" r="2.6"/><circle cx="311" cy="257" r="2.3"/><circle cx="311" cy="275" r="2.3"/><circle cx="343" cy="255" r="2.3"/><circle cx="343" cy="273" r="2.3"/></g>
<circle cx="37" cy="318" r="24" fill="#fff" stroke="#111" stroke-width="1.6"/><circle cx="37" cy="318" r="16" fill="none" stroke="#111" stroke-width="1.4"/><text x="37" y="322" text-anchor="middle" font-size="11">~</text>
<g fill="#fff" stroke="#222"><rect x="286" y="300" width="6" height="15"/><rect x="363" y="300" width="6" height="15"/></g>
<path class="w" stroke-width="1.6" d="M284,318H294M284,321H294M361,318H371M361,321H371"/>
<g fill="#fff" stroke="#222" stroke-width="1.3"><rect x="299" y="312" width="26" height="11"/><rect x="331" y="312" width="26" height="11"/></g>
<g font-size="9.5" text-anchor="middle"><text x="312" y="321">LI</text><text x="344" y="321">LO</text><text x="311" y="343">LIFT</text><text x="343" y="343">LOW</text><text x="211" y="305">RESET</text></g>
<g font-size="9.5"><text x="88" y="18">N</text><text x="90" y="28">L1</text><text x="90" y="37">L2</text><text x="90" y="48">L3</text><text x="63" y="68">FUSE</text><text x="10" y="128">LI</text><text x="145" y="128">LO</text><text x="70" y="320">HOISTING</text><text x="76" y="331">MOTOR</text><text x="264" y="33">MANY</text><text x="264" y="44">STARTS</text><text x="139" y="178">S</text><text x="76" y="213">S</text><text x="76" y="261">F</text><text x="366" y="80">S1</text><text x="378" y="334">S2</text><text x="315" y="264">LO</text><text x="347" y="264">LI</text><text transform="translate(309,105) rotate(-90)" font-size="9">SUPPLY</text><text x="231" y="150">b1</text><text x="231" y="225">a1</text><text x="198" y="54" class="b" font-size="12">+</text></g>
<rect x="304" y="111" width="86" height="36" fill="#fff" stroke="#222" stroke-width="1.3"/>
<g font-size="9" text-anchor="middle"><text x="347" y="127">PULSANTIERA</text><text x="347" y="140">PANEL BOARD</text></g>
<rect x="168" y="16" width="77" height="18" fill="#fff" stroke="#111" stroke-width="3"/><text x="206" y="31" text-anchor="middle" class="b" font-size="15">DISPLAY</text>
<path class="kb" d="M97,183H197V58H297V283H97Z"/>
<g class="k"><rect x="197" y="58" width="25" height="25"/><rect x="222" y="58" width="25" height="25"/><rect x="247" y="58" width="25" height="25"/><rect x="272" y="58" width="25" height="25"/><rect x="197" y="108" width="25" height="25"/><rect x="197" y="133" width="25" height="25"/><rect x="197" y="158" width="25" height="25"/><rect x="272" y="83" width="25" height="25"/><rect x="272" y="108" width="25" height="25"/><rect x="272" y="133" width="25" height="25"/><rect x="272" y="158" width="25" height="25"/><rect x="272" y="183" width="25" height="25"/><rect x="272" y="208" width="25" height="25"/><rect x="272" y="233" width="25" height="25"/><rect x="97" y="183" width="25" height="25"/><rect x="97" y="208" width="25" height="25"/><rect x="97" y="233" width="25" height="25"/><rect x="97" y="258" width="25" height="25"/><rect x="172" y="258" width="25" height="25"/><rect x="197" y="258" width="25" height="25"/></g>
<g class="b" font-size="14.5" text-anchor="middle"><text x="209" y="76">27</text><text x="234" y="76">26</text><text x="259" y="76">18</text><text x="284" y="76">3</text><text x="209" y="126">24</text><text x="209" y="151">22</text><text x="209" y="176">20</text><text x="284" y="101">2</text><text x="284" y="126">8</text><text x="284" y="151">7</text><text x="284" y="176">9</text><text x="284" y="201">4</text><text x="284" y="226">6</text><text x="284" y="251">5</text><text x="109" y="201">34</text><text x="109" y="251">29</text><text x="109" y="276">28</text><text x="184" y="276">17</text><text x="209" y="276">19</text><text x="182" y="228" font-size="16">E 404-1</text></g>
<path d="M235,127V120H272M228,127L259,145H272M235,158V170H272M235,202V195H272M228,202L259,220H272M235,233V245H272" fill="none" stroke="#111" stroke-width="2.2"/>
<circle cx="259" cy="145" r="3" fill="#111"/><circle cx="259" cy="220" r="3" fill="#111"/>
<g font-size="14"><text x="12" y="356">Esempio: applicazione con n°1 motore ad una polarità -</text><text x="12" y="373">inserzione diretta per valori fino a 40A.</text><text x="12" y="390">Example: application with one motor with one pole</text><text x="12" y="407">direct insertion up to 40A.</text><text x="12" y="423">Fig.6</text></g>
</g>

<!-- LOGO / FOOTER -->
<text x="113" y="1623" font-size="32" font-weight="bold" font-style="italic" textLength="112" lengthAdjust="spacingAndGlyphs">EMIREL</text>
<text x="207" y="1632" font-size="9" class="b">s.r.l.</text>
<path d="M733,1661H864M884,1661H1024" stroke="#888" stroke-width="2.5"/>
<path d="M0,1683H1191" stroke="#111" stroke-width="2"/>
</svg>
</body></html>
